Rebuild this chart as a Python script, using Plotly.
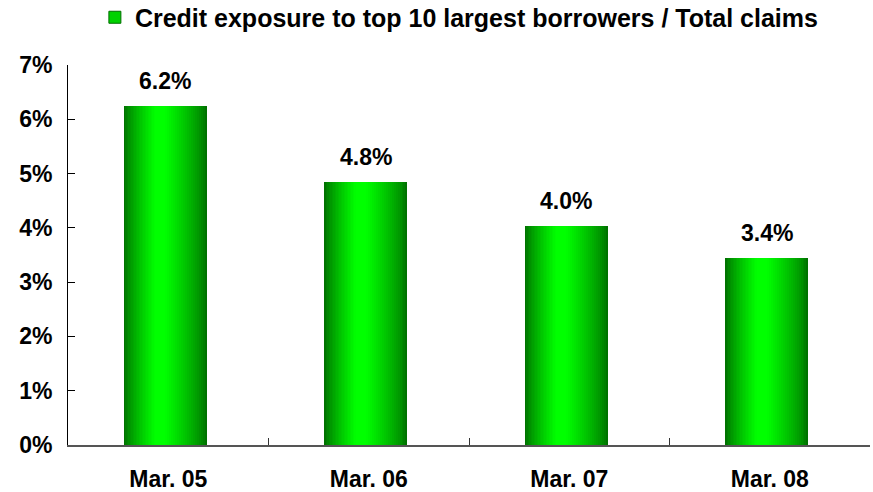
import plotly.graph_objects as go

categories = ["Mar. 05", "Mar. 06", "Mar. 07", "Mar. 08"]
values = [6.25, 4.84, 4.03, 3.45]
labels = ["6.2%", "4.8%", "4.0%", "3.4%"]
y_ticks = [0, 1, 2, 3, 4, 5, 6, 7]
y_tick_text = ["0%", "1%", "2%", "3%", "4%", "5%", "6%", "7%"]
series_name = "Credit exposure to top 10 largest borrowers / Total claims"

FONT = "Liberation Sans, Arial, sans-serif"
fig = go.Figure()

# simulate horizontal gradient with stacked overlay bars of narrowing width
W = 0.415
left0 = -0.222
peak = 0.43
N = 24
dark = (0, 115, 0)
bright = (0, 255, 0)
for i in range(N):
    t = i / N
    f = min(1.0, (t / 0.85)) ** 0.8
    c = tuple(int(dark[k] + (bright[k] - dark[k]) * f) for k in range(3))
    left = left0 + t * peak * W
    width = W * (1 - t)
    fig.add_trace(go.Bar(
        x=categories, y=values,
        width=[width] * len(categories),
        offset=[left] * len(categories),
        marker=dict(color="rgb(%d,%d,%d)" % c, line=dict(width=0)),
        showlegend=False, hoverinfo="skip",
    ))

# legend entry
fig.add_trace(go.Bar(
    x=[categories[0]], y=[0], name="<b>%s</b>" % series_name,
    marker=dict(color="rgb(0,210,0)", line=dict(color="rgb(0,110,0)", width=1)),
    showlegend=True, hoverinfo="skip", width=[0.0001],
))

for c, v, lab in zip(categories, values, labels):
    fig.add_annotation(x=c, y=v, text="<b>%s</b>" % lab, showarrow=False,
                       yanchor="bottom", yshift=10, xshift=-3,
                       font=dict(family=FONT, size=23, color="black"))

fig.update_layout(
    width=873, height=492,
    margin=dict(l=68, r=3, t=65, b=47, autoexpand=False),
    paper_bgcolor="white", plot_bgcolor="white",
    barmode="overlay", bargap=0,
    font=dict(family=FONT, size=23, color="black"),
    showlegend=True,
    legend=dict(orientation="h", x=0.488, xanchor="center", y=1.125, yanchor="middle",
                yref="paper", font=dict(family=FONT, size=25, color="black"),
                itemwidth=30, bgcolor="rgba(0,0,0,0)"),
)

fig.update_xaxes(
    type="category", categoryorder="array", categoryarray=categories,
    tickson="boundaries", ticks="inside", ticklen=7, tickcolor="#333",
    showline=True, linecolor="#555", linewidth=2, showgrid=False,
    tickvals=categories, ticktext=["<b>%s</b>" % c for c in categories],
    tickfont=dict(family=FONT, size=23), ticklabelstandoff=12,
    range=[-0.5, 3.5], fixedrange=True, automargin=False,
)
fig.update_yaxes(
    range=[0, 7], tickvals=y_ticks, ticktext=["<b>%s</b>" % t for t in y_tick_text],
    ticks="inside", ticklen=7, tickcolor="black",
    showline=True, linecolor="black", linewidth=1, showgrid=False, zeroline=False,
    tickfont=dict(family=FONT, size=23), ticklabelstandoff=10, automargin=False,
)

fig.write_html("out.html")
